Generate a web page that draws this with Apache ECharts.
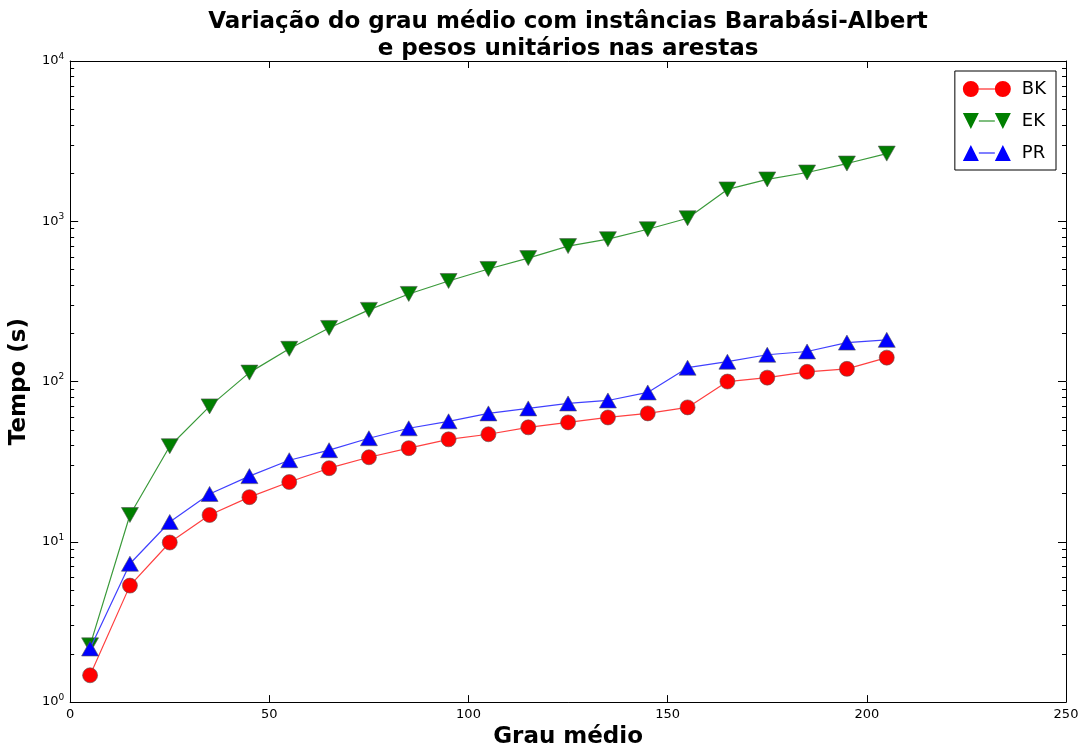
<!DOCTYPE html>
<html><head><meta charset="utf-8">
<script src="https://cdn.jsdelivr.net/npm/echarts@6/dist/echarts.min.js"></script>
<style>html,body{margin:0;padding:0;background:#fff}#c{width:1086px;height:754px}</style>
</head><body><div id="c"></div>
<script>
const grauMedio = [5,15,25,35,45,55,65,75,85,95,105,115,125,135,145,155,165,175,185,195,205];
const bk = [1.47,5.33,9.9,14.7,19.0,23.6,28.8,33.7,38.4,43.6,46.9,51.8,55.6,59.7,63.3,69.0,100,105.8,115,120,141];
const ek = [2.26,14.7,39.5,70,113.7,160,216,280,352,424,504,589,700,773,892,1044,1580,1824,2015,2292,2643];
const pr = [2.16,7.3,13.3,19.9,25.7,32.3,37.3,44.3,51.1,56.5,63.3,68,73,76.2,85.5,122,133,147,154,175,182];
const yMinorTicks = [2,3,4,5,6,7,8,9,20,30,40,50,60,70,80,90,200,300,400,500,600,700,800,900,2000,3000,4000,5000,6000,7000,8000,9000];
const xTicks = [0,50,100,150,200,250];

const FONT = 'DejaVu Sans';
const pairs = a => grauMedio.map((x,i)=>[x,a[i]]);
const circlePath = 'path://M0,8 A8,8 0 1,0 16,8 A8,8 0 1,0 0,8 Z M32,8 A8,8 0 1,0 48,8 A8,8 0 1,0 32,8 Z M16,7.4 L32,7.4 L32,8.6 L16,8.6 Z';
const downPath = 'path://M0,0 L16,0 L8,16 Z M32,0 L48,0 L40,16 Z M16,7.4 L32,7.4 L32,8.6 L16,8.6 Z';
const upPath = 'path://M0,16 L16,16 L8,0 Z M32,16 L48,16 L40,0 Z M16,7.4 L32,7.4 L32,8.6 L16,8.6 Z';

const logBase = {type:'log', logBase:10, min:1, max:10000};
const line = {show:true, onZero:false, lineStyle:{color:'#000', width:1}};
const noLine = {show:false, onZero:false};
const chart = echarts.init(document.getElementById('c'), null, {renderer:'canvas'});
chart.setOption({
  animation:false,
  textStyle:{fontFamily:FONT},
  title:{
    text:'Variação do grau médio com instâncias Barabási-Albert\ne pesos unitários nas arestas',
    left:563, textAlign:'center', top:4,
    textStyle:{fontFamily:FONT, fontSize:23, fontWeight:'bold', color:'#000', lineHeight:27}
  },
  legend:{
    orient:'vertical', right:30, top:71,
    backgroundColor:'#fff', borderColor:'#000', borderWidth:1, borderRadius:0,
    padding:[9,10,8,8], itemGap:14, itemWidth:48, itemHeight:16,
    textStyle:{fontFamily:FONT, fontSize:18, color:'#000', padding:[0,0,0,6]},
    data:[
      {name:'BK', icon:circlePath, itemStyle:{color:'#ff0000', borderWidth:0}},
      {name:'EK', icon:downPath, itemStyle:{color:'#007f00', borderWidth:0}},
      {name:'PR', icon:upPath, itemStyle:{color:'#0000ff', borderWidth:0}}
    ]
  },
  grid:{left:69, right:20, top:61, bottom:49},
  xAxis:[
    {type:'value', min:0, max:250, interval:50, position:'bottom',
     name:'Grau médio', nameLocation:'middle', nameGap:23,
     nameTextStyle:{fontFamily:FONT, fontSize:23, fontWeight:'bold', color:'#000'},
     axisLine:line,
     axisTick:{show:true, inside:true, length:7, lineStyle:{color:'#000'}},
     axisLabel:{fontFamily:FONT, fontSize:13, color:'#000', margin:6, customValues:xTicks},
     splitLine:{show:false}},
    {type:'value', min:0, max:250, interval:50, position:'top',
     axisLine:line,
     axisTick:{show:true, inside:true, length:7, lineStyle:{color:'#000'}},
     axisLabel:{show:false}, splitLine:{show:false}}
  ],
  yAxis:[
    Object.assign({}, logBase, {position:'left',
     name:'Tempo (s)', nameLocation:'middle', nameGap:38, nameRotate:90,
     nameTextStyle:{fontFamily:FONT, fontSize:23, fontWeight:'bold', color:'#000'},
     axisLine:line,
     axisTick:{show:true, inside:true, length:8, lineStyle:{color:'#000'}},
     axisLabel:{margin:6, color:'#000',
       formatter:function(v){ const e=Math.round(Math.log10(v)); return '{b|10}{s|'+e+'}'; },
       rich:{b:{fontFamily:FONT, fontSize:13, color:'#000'}, s:{fontFamily:FONT, fontSize:9, color:'#000', padding:[0,0,9,0]}}},
     splitLine:{show:false}}),
    Object.assign({}, logBase, {position:'right',
     axisLine:line,
     axisTick:{show:true, inside:true, length:8, lineStyle:{color:'#000'}},
     axisLabel:{show:false}, splitLine:{show:false}}),
    Object.assign({}, logBase, {position:'left',
     axisLine:noLine,
     axisTick:{show:true, inside:true, length:4, customValues:yMinorTicks, lineStyle:{color:'#000', width:1}},
     axisLabel:{show:false}, splitLine:{show:false}}),
    Object.assign({}, logBase, {position:'right',
     axisLine:noLine,
     axisTick:{show:true, inside:true, length:4, customValues:yMinorTicks, lineStyle:{color:'#000', width:1}},
     axisLabel:{show:false}, splitLine:{show:false}})
  ],
  series:[
    {name:'BK', type:'line', xAxisIndex:0, yAxisIndex:0, data:pairs(bk),
     symbol:'circle', symbolSize:15,
     lineStyle:{color:'#ff4040', width:1.2},
     itemStyle:{color:'#ff0000', borderColor:'#555', borderWidth:0.6}, z:2},
    {name:'EK', type:'line', xAxisIndex:0, yAxisIndex:0, data:pairs(ek),
     symbol:'triangle', symbolRotate:180, symbolSize:[17,15],
     lineStyle:{color:'#3a9a3a', width:1.2},
     itemStyle:{color:'#007f00', borderColor:'#555', borderWidth:0.6}, z:3},
    {name:'PR', type:'line', xAxisIndex:0, yAxisIndex:0, data:pairs(pr),
     symbol:'triangle', symbolSize:[17,15],
     lineStyle:{color:'#4040ff', width:1.2},
     itemStyle:{color:'#0000ff', borderColor:'#555', borderWidth:0.6}, z:4}
  ]
});
</script></body></html>
